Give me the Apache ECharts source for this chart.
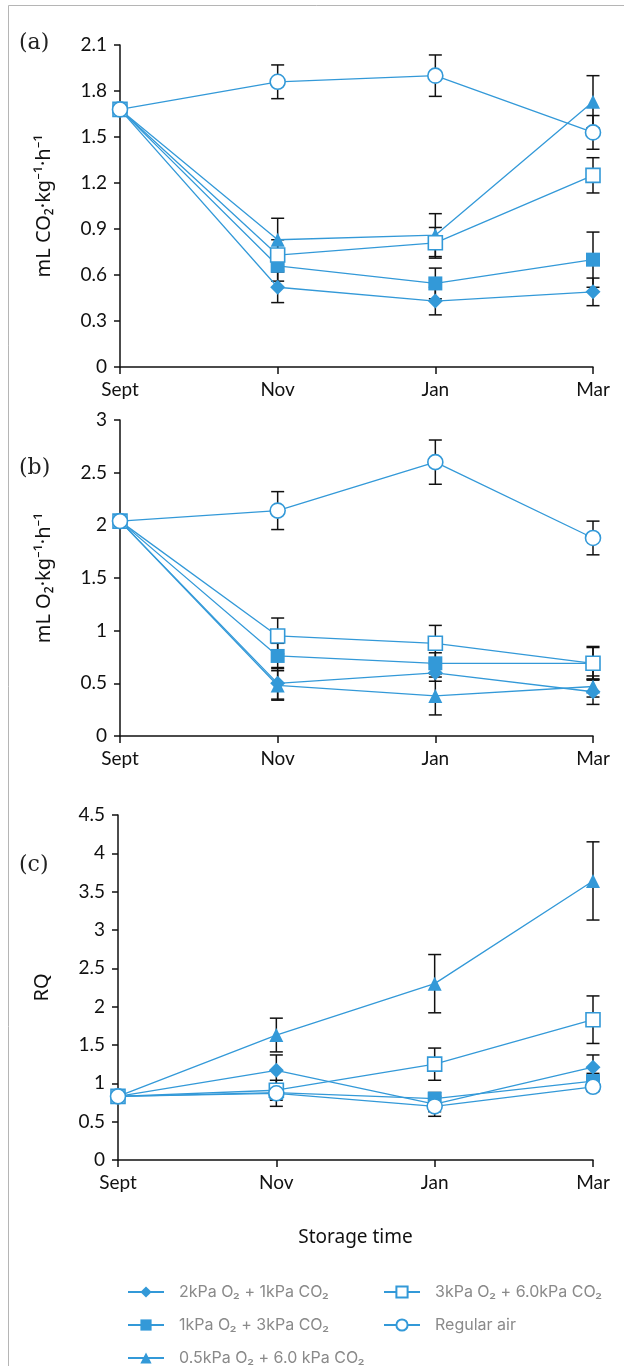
<!DOCTYPE html>
<html>
<head>
<meta charset="utf-8">
<script src="https://cdn.jsdelivr.net/npm/echarts@6/dist/echarts.min.js"></script>
<style>
  html, body { margin: 0; padding: 0; background: #fff; }
  #chart { width: 624px; height: 1366px; }
</style>
</head>
<body>
<div id="chart"></div>
<script>
// storage months
var months = ['Sept', 'Nov', 'Jan', 'Mar'];

var names = ['2kPa O₂ + 1kPa CO₂', '1kPa O₂ + 3kPa CO₂', '0.5kPa O₂ + 6.0 kPa CO₂',
             '3kPa O₂ + 6.0kPa CO₂', 'Regular air'];

// (a) CO2 production
var co2Diamond  = [1.68, 0.52, 0.43, 0.49];
var co2FSquare  = [1.68, 0.66, 0.545, 0.70];
var co2Triangle = [1.68, 0.83, 0.86, 1.73];
var co2OSquare  = [1.68, 0.73, 0.81, 1.25];
var co2Circle   = [1.68, 1.86, 1.90, 1.53];
var co2ErrDiamond  = [0, 0.10, 0.09, 0.09];
var co2ErrFSquare  = [0, 0.10, 0.10, 0.18];
var co2ErrTriangle = [0, 0.14, 0.14, 0.17];
var co2ErrOSquare  = [0, 0.10, 0.10, 0.115];
var co2ErrCircle   = [0, 0.11, 0.135, 0.11];

// (b) O2 consumption
var o2Diamond  = [2.04, 0.50, 0.60, 0.42];
var o2FSquare  = [2.04, 0.76, 0.69, 0.69];
var o2Triangle = [2.04, 0.48, 0.38, 0.47];
var o2OSquare  = [2.04, 0.95, 0.88, 0.69];
var o2Circle   = [2.04, 2.14, 2.60, 1.88];
var o2ErrDiamond  = [0, 0.15, 0.08, 0.12];
var o2ErrFSquare  = [0, 0.12, 0.10, 0.15];
var o2ErrTriangle = [0, 0.14, 0.18, 0.10];
var o2ErrOSquare  = [0, 0.17, 0.17, 0.16];
var o2ErrCircle   = [0, 0.18, 0.21, 0.16];

// (c) RQ
var rqDiamond  = [0.83, 1.17, 0.73, 1.21];
var rqFSquare  = [0.83, 0.88, 0.80, 1.03];
var rqTriangle = [0.83, 1.63, 2.30, 3.64];
var rqOSquare  = [0.83, 0.91, 1.25, 1.83];
var rqCircle   = [0.83, 0.87, 0.70, 0.955];
var rqErrDiamond  = [0, 0.20, 0.10, 0.16];
var rqErrFSquare  = [0, 0.10, 0.08, 0.10];
var rqErrTriangle = [0, 0.22, 0.38, 0.51];
var rqErrOSquare  = [0, 0.07, 0.21, 0.31];
var rqErrCircle   = [0, 0.17, 0.13, 0.06];

var yMax = [2.1, 3, 4.5];
var yStep = [0.3, 0.5, 0.5];

var blue = '#3399d8';
var tickFont = 'Lato';

var marks = [
  {symbol: 'diamond', size: 15, fill: blue},
  {symbol: 'rect', size: 14, fill: blue},
  {symbol: 'triangle', size: 14, fill: blue},
  {symbol: 'rect', size: 14, fill: '#fff'},
  {symbol: 'circle', size: 15, fill: '#fff'}
];

var panels = [
  {vals: [co2Diamond, co2FSquare, co2Triangle, co2OSquare, co2Circle],
   errs: [co2ErrDiamond, co2ErrFSquare, co2ErrTriangle, co2ErrOSquare, co2ErrCircle]},
  {vals: [o2Diamond, o2FSquare, o2Triangle, o2OSquare, o2Circle],
   errs: [o2ErrDiamond, o2ErrFSquare, o2ErrTriangle, o2ErrOSquare, o2ErrCircle]},
  {vals: [rqDiamond, rqFSquare, rqTriangle, rqOSquare, rqCircle],
   errs: [rqErrDiamond, rqErrFSquare, rqErrTriangle, rqErrOSquare, rqErrCircle]}
];

function errBar(params, api) {
  var x = api.value(0);
  var lo = api.coord([x, api.value(1)]);
  var hi = api.coord([x, api.value(2)]);
  var w = 6.5;
  var st = {stroke: '#111', lineWidth: 1.5};
  return {type: 'group', children: [
    {type: 'line', shape: {x1: lo[0], y1: lo[1], x2: hi[0], y2: hi[1]}, style: st},
    {type: 'line', shape: {x1: lo[0] - w, y1: lo[1], x2: lo[0] + w, y2: lo[1]}, style: st},
    {type: 'line', shape: {x1: hi[0] - w, y1: hi[1], x2: hi[0] + w, y2: hi[1]}, style: st}
  ]};
}

var series = [];
panels.forEach(function(p, pi) {
  p.vals.forEach(function(v, si) {
    var eb = [];
    p.errs[si].forEach(function(e, i) {
      if (e > 0) eb.push([i, v[i] - e, v[i] + e]);
    });
    series.push({
      type: 'custom', xAxisIndex: pi, yAxisIndex: pi, z: 1,
      renderItem: errBar, data: eb, silent: true
    });
  });
  p.vals.forEach(function(v, si) {
    var m = marks[si];
    series.push({
      name: names[si], type: 'line', xAxisIndex: pi, yAxisIndex: pi, z: 3,
      data: v, symbol: m.symbol, symbolSize: m.size, showAllSymbol: true,
      lineStyle: {color: blue, width: 1.3},
      itemStyle: {color: m.fill, borderColor: blue, borderWidth: m.fill === '#fff' ? 1.6 : 0}
    });
  });
});

var grids = [
  {left: 120, top: 45, width: 473, height: 322},
  {left: 120, top: 420, width: 473, height: 316},
  {left: 118, top: 815, width: 475, height: 345}
];
var yNames = ['mL CO₂·kg⁻¹·h⁻¹', 'mL O₂·kg⁻¹·h⁻¹', 'RQ'];

var axisLine = {lineStyle: {color: '#111', width: 1.5}};
var xAxes = grids.map(function(g, i) {
  return {
    type: 'category', gridIndex: i, data: months, boundaryGap: false,
    axisLine: axisLine,
    axisTick: {length: 7, lineStyle: {color: '#111', width: 1.5}},
    axisLabel: {color: '#111', fontSize: 19, fontFamily: tickFont, margin: 13},
    name: i === 2 ? 'Storage time' : '', nameLocation: 'middle', nameGap: 68,
    nameTextStyle: {color: '#111', fontSize: 19, fontFamily: 'Noto Sans'}
  };
});
var yAxes = grids.map(function(g, i) {
  return {
    type: 'value', gridIndex: i, min: 0, max: yMax[i], interval: yStep[i],
    axisLine: {show: true, lineStyle: {color: '#111', width: 1.5}},
    axisTick: {show: true, length: 6, lineStyle: {color: '#111', width: 1.5}},
    splitLine: {show: false},
    axisLabel: {color: '#111', fontSize: 19, fontFamily: tickFont, margin: 13},
    name: yNames[i], nameLocation: 'middle', nameGap: 66, nameRotate: 90,
    nameTextStyle: {color: '#111', fontSize: 20, fontFamily: 'Noto Sans'}
  };
});

var legendText = {color: '#8a8a8a', fontSize: 16, fontFamily: 'Inter', padding: [0, 0, 0, 10]};
var legendPos = [[122, 1279], [122, 1312], [122, 1345], [378, 1279], [378, 1312]];
var legends = names.map(function(n, i) {
  return {data: [n], left: legendPos[i][0], top: legendPos[i][1],
          itemWidth: 36, itemHeight: 14, textStyle: legendText};
});

var option = {
  animation: false,
  backgroundColor: '#fff',
  grid: grids,
  xAxis: xAxes,
  yAxis: yAxes,
  legend: legends,
  graphic: [
    {type: 'rect', shape: {x: 8.5, y: 5.5, width: 700, height: 1400}, silent: true,
     style: {fill: 'none', stroke: '#b5b5b5', lineWidth: 1}},
    {type: 'text', left: 19, top: 32, style: {text: '(a)', font: '22px "DejaVu Serif"', fill: '#222'}},
    {type: 'text', left: 19, top: 457, style: {text: '(b)', font: '22px "DejaVu Serif"', fill: '#222'}},
    {type: 'text', left: 19, top: 854, style: {text: '(c)', font: '22px "DejaVu Serif"', fill: '#222'}}
  ],
  series: series
};

var chart = echarts.init(document.getElementById('chart'));
chart.setOption(option);
</script>
</body>
</html>
